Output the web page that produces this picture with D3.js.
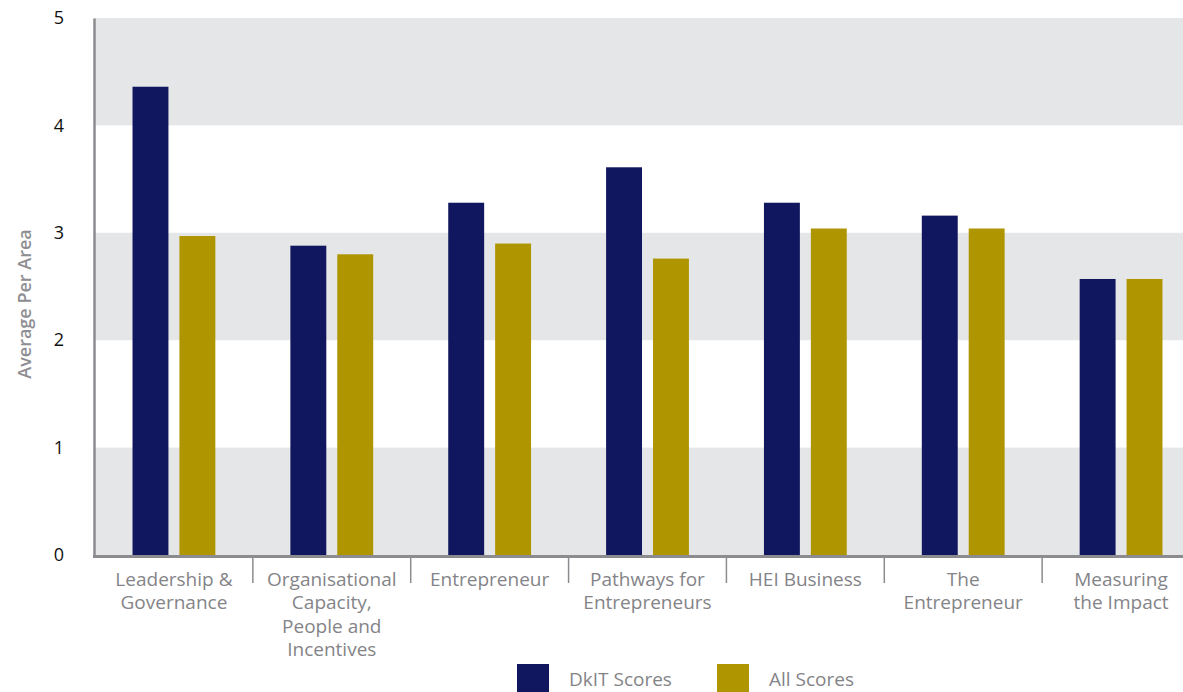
<!DOCTYPE html>
<html>
<head>
<meta charset="utf-8">
<script src="https://cdn.jsdelivr.net/npm/d3@7"></script>
<style>
  body { margin: 0; background: #fff; }
  svg { display: block; }
  svg text { font-family: "Open Sans", "Noto Sans", sans-serif; }
</style>
</head>
<body>
<div id="chart"></div>
<script>
const categories = [
    ["Leadership &", "Governance"],
    ["Organisational", "Capacity,", "People and", "Incentives"],
    ["Entrepreneur"],
    ["Pathways for", "Entrepreneurs"],
    ["HEI Business"],
    ["The", "Entrepreneur"],
    ["Measuring", "the Impact"]
];
const seriesNames = ["DkIT Scores", "All Scores"];
const dkitScores = [4.36, 2.88, 3.28, 3.61, 3.28, 3.16, 2.57];
const allScores = [2.97, 2.80, 2.90, 2.76, 3.04, 3.04, 2.57];
const yTicks = [0, 1, 2, 3, 4, 5];

const dimensions = {
    width: 1183,
    height: 692,
    left: 95,
    right: 1200,
    top: 18,
    bottom: 555
};

const colors = { "DkIT Scores": "#11175e", "All Scores": "#af9500" };

const svg = d3.select("#chart")
    .append("svg")
    .attr("width", dimensions.width)
    .attr("height", dimensions.height);

const catKeys = categories.map(c => c.join(" "));
const data = catKeys.map((key, i) => ({
    key: key,
    lines: categories[i],
    values: [
        { series: seriesNames[0], value: dkitScores[i] },
        { series: seriesNames[1], value: allScores[i] }
    ]
}));

const x0 = d3.scaleBand()
    .domain(catKeys)
    .range([dimensions.left, dimensions.right])
    .padding(0);

const x1 = d3.scaleBand()
    .domain(seriesNames)
    .range([0, x0.bandwidth()])
    .paddingInner(0.234)
    .paddingOuter(0.8);

const y = d3.scaleLinear()
    .domain([0, 5])
    .range([dimensions.bottom, dimensions.top]);

// alternating grey bands
const bands = yTicks.slice(0, -1).filter(t => t % 2 === 0);
svg.append("g")
    .selectAll("rect")
    .data(bands)
    .join("rect")
    .attr("x", dimensions.left)
    .attr("width", dimensions.width - dimensions.left)
    .attr("y", d => y(d + 1))
    .attr("height", d => y(d) - y(d + 1))
    .attr("fill", "#e5e6e8");

// bars
svg.append("g")
    .selectAll("g")
    .data(data)
    .join("g")
    .attr("transform", d => `translate(${x0(d.key)},0)`)
    .selectAll("rect")
    .data(d => d.values)
    .join("rect")
    .attr("x", d => x1(d.series))
    .attr("width", x1.bandwidth())
    .attr("y", d => y(d.value))
    .attr("height", d => y(0) - y(d.value))
    .attr("fill", d => colors[d.series]);

// y axis
const yAxis = svg.append("g")
    .attr("transform", `translate(${dimensions.left - 1},0)`)
    .call(d3.axisLeft(y).tickValues(yTicks).tickFormat(d3.format("d")).tickSize(0).tickPadding(30));
yAxis.select(".domain")
    .attr("stroke", "#8c8c90")
    .attr("stroke-width", 2.5);
yAxis.selectAll("text")
    .attr("fill", "#111")
    .attr("font-size", 18);

// x axis
const xAxis = svg.append("g")
    .attr("transform", `translate(0,${dimensions.bottom + 1.5})`)
    .call(d3.axisBottom(x0).tickSize(0).tickFormat(""));
xAxis.select(".domain")
    .attr("d", `M${dimensions.left - 2},0H${dimensions.width}`)
    .attr("stroke", "#8c8c90")
    .attr("stroke-width", 3);

// separator ticks between categories
svg.append("g")
    .selectAll("line")
    .data(catKeys.slice(1))
    .join("line")
    .attr("x1", d => x0(d))
    .attr("x2", d => x0(d))
    .attr("y1", dimensions.bottom + 2)
    .attr("y2", dimensions.bottom + 28)
    .attr("stroke", "#8c8c90")
    .attr("stroke-width", 1.5);

// category labels
svg.append("g")
    .selectAll("text")
    .data(data)
    .join("text")
    .attr("x", d => x0(d.key) + x0.bandwidth() / 2)
    .attr("y", dimensions.bottom + 31)
    .attr("text-anchor", "middle")
    .attr("fill", "#848488")
    .attr("font-size", 19)
    .selectAll("tspan")
    .data(d => d.lines)
    .join("tspan")
    .attr("x", function () { return d3.select(this.parentNode).attr("x"); })
    .attr("dy", (d, i) => i === 0 ? 0 : 23.3)
    .text(d => d);

// y axis title
svg.append("text")
    .attr("transform", "translate(31,304) rotate(-90)")
    .attr("text-anchor", "middle")
    .attr("fill", "#8e8e92")
    .attr("font-size", 18)
    .attr("font-weight", 600)
    .text("Average Per Area");

// legend
const legend = svg.append("g")
    .selectAll("g")
    .data(seriesNames)
    .join("g")
    .attr("transform", (d, i) => `translate(${517 + i * 200},664)`);

legend.append("rect")
    .attr("width", 32)
    .attr("height", 30)
    .attr("fill", d => colors[d]);

legend.append("text")
    .attr("x", 52)
    .attr("y", 22)
    .attr("fill", "#848488")
    .attr("font-size", 19)
    .text(d => d);
</script>
</body>
</html>
